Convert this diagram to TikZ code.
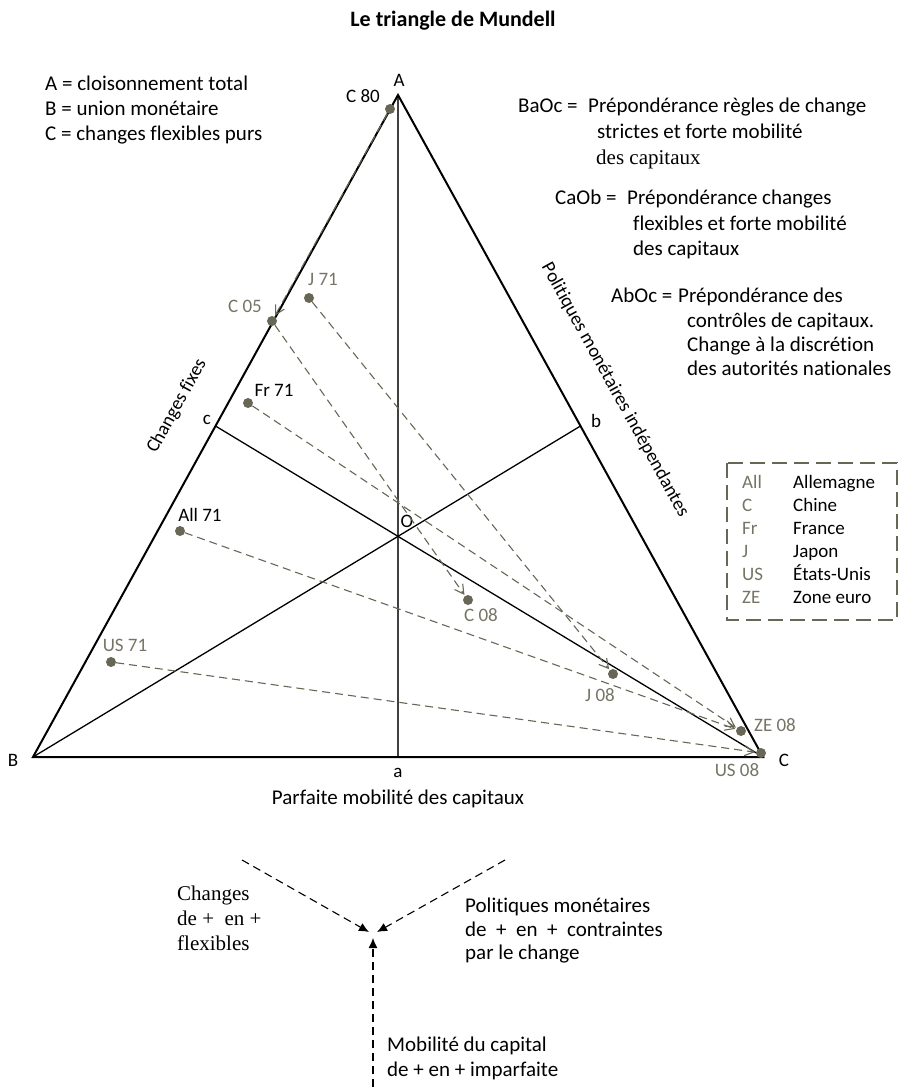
\documentclass[tikz,border=0pt]{standalone}
\usepackage{fontspec}
\setmainfont{Carlito}[Ligatures={NoCommon}]
\newfontfamily\serifft{Liberation Serif}[Ligatures={NoCommon}]
\usetikzlibrary{arrows.meta}
\definecolor{ptgray}{RGB}{104,102,84}
\definecolor{lblgray}{RGB}{118,116,100}
\tikzset{
  txt/.style={inner sep=0pt, font=\fontsize{21}{24}\selectfont},
  lbl/.style={inner sep=0pt, font=\fontsize{19}{22}\selectfont},
  bw/.style={txt, anchor=base west},
  sidel/.style={line width=2pt, line join=miter},
  median/.style={line width=1.3pt},
  vert/.style={line width=1.3pt, black!75},
  dot/.style={circle, fill=ptgray, inner sep=0pt, minimum size=10pt},
  glbl/.style={lbl, text=lblgray},
  conn/.style={ptgray, line width=1.1pt, dash pattern=on 8pt off 5pt, -{Straight Barb[length=9pt,width=10pt]}, shorten >=1pt},
  legbox/.style={ptgray, line width=2.6pt, dash pattern=on 15pt off 7pt},
  legt/.style={inner sep=0pt, font=\fontsize{19}{22}\selectfont, anchor=base west},
  barr/.style={black, line width=1.1pt, dash pattern=on 8pt off 5pt, -{Latex[length=10pt,width=9pt]}},
  sbw/.style={bw, font=\fontsize{21}{24}\serifft},
}
\begin{document}
\begin{tikzpicture}[x=1pt,y=-1pt]
\useasboundingbox (0,0) rectangle (906,1087);
% title
\node[inner sep=0pt, font=\fontsize{22}{24}\selectfont\bfseries] (title) at (453,21) {Le triangle de Mundell};
% key points
\coordinate (A) at (398,95);
\coordinate (B) at (33,757);
\coordinate (C) at (763,757);
\coordinate (a) at (398,757);
\coordinate (c) at (215.5,426);
\coordinate (b) at (580.5,426);
\coordinate (O) at (398,536.3);
\draw[vert] (A) -- (a);
\draw[median] (c) -- (C);
\draw[median] (b) -- (B);
\draw[sidel] (A) -- (B) -- (C) -- cycle;
% vertex labels
\node[lbl] (lA) at (399,80) {A};
\node[lbl] (lB) at (13,760) {B};
\node[lbl] (lC) at (784,760) {C};
\node[lbl] (la) at (398,773) {a};
\node[lbl] (lb) at (596,421) {b};
\node[lbl] (lc) at (207,420) {c};
\node[lbl] (lO) at (407,521) {O};
\node[txt] (axis) at (398,799) {Parfaite mobilité des capitaux};
\node[lbl, rotate=61.1] (cf) at (177,406) {Changes fixes};
\node[lbl, rotate=-61.1] (pmi) at (615,390) {Politiques monétaires indépendantes};
% definitions
\node[bw] (dA) at (45,90) {A = cloisonnement total};
\node[bw] (dB) at (45,115) {B = union monétaire};
\node[bw] (dC) at (45,140) {C = changes flexibles purs};
\node[bw] (k1a) at (518,112) {BaOc =};
\node[bw] (d1a) at (588,112) {Prépondérance règles de change};
\node[bw] (d1b) at (597,138) {strictes et forte mobilité};
\node[sbw] (d1c) at (596,164) {des capitaux};
\node[bw] (k2a) at (555,204) {CaOb =};
\node[bw] (d2a) at (627,204) {Prépondérance changes};
\node[bw] (d2b) at (633,230) {flexibles et forte mobilité};
\node[bw] (d2c) at (633,255) {des capitaux};
\node[bw] (k3a) at (611,302) {AbOc =};
\node[bw] (d3a) at (678,302) {Prépondérance des};
\node[bw] (d3b) at (687,327) {contrôles de capitaux.};
\node[bw] (d3c) at (687,351) {Change à la discrétion};
\node[bw] (d3d) at (687,375) {des autorités nationales};
% legend
\draw[legbox] (727,463) rectangle (897,620);
\node[legt, text=lblgray] (k1) at (742,488) {All};
\node[legt, text=lblgray] (k2) at (742,511) {C};
\node[legt, text=lblgray] (k3) at (742,534) {Fr};
\node[legt, text=lblgray] (k4) at (742,557) {J};
\node[legt, text=lblgray] (k5) at (742,580) {US};
\node[legt, text=lblgray] (k6) at (742,603) {ZE};
\node[legt] (n1) at (793,488) {Allemagne};
\node[legt] (n2) at (793,511) {Chine};
\node[legt] (n3) at (793,534) {France};
\node[legt] (n4) at (793,557) {Japon};
\node[legt] (n5) at (793,580) {États-Unis};
\node[legt] (n6) at (793,603) {Zone euro};
% data points
\node[dot] (c80) at (390,109) {};
\node[dot] (c05) at (272,321) {};
\node[dot] (j71) at (309,298) {};
\node[dot] (fr71) at (248,403) {};
\node[dot] (all71) at (180,531) {};
\node[dot] (us71) at (111,662) {};
\node[dot] (c08) at (468,600) {};
\node[dot] (j08) at (613,674) {};
\node[dot] (ze08) at (741,731) {};
\node[dot] (us08) at (761,753) {};
\node[lbl] (tc80) at (363,96) {C 80};
\node[glbl] (tc05) at (245,306) {C 05};
\node[glbl] (tj71) at (323,279) {J 71};
\node[lbl] (tfr71) at (274,390) {Fr 71};
\node[lbl] (tall71) at (200,515) {All 71};
\node[glbl] (tus71) at (125,645) {US 71};
\node[glbl] (tc08) at (481,615) {C 08};
\node[glbl] (tj08) at (600,695) {J 08};
\node[glbl] (tze08) at (775,725) {ZE 08};
\node[glbl] (tus08) at (737,770) {US 08};
% movements
\draw[conn] (c80) -- (c05);
\draw[conn] (c05) -- (c08);
\draw[conn] (j71) -- (j08);
\draw[conn] (fr71) -- (ze08);
\draw[conn] (all71) -- (ze08);
\draw[conn] (us71) -- (us08);
% bottom diagram
\coordinate (p1) at (242,860);
\coordinate (t1) at (369,932);
\coordinate (p2) at (505,860);
\coordinate (t2) at (377,932);
\coordinate (p3) at (373,1087);
\coordinate (t3) at (373,938);
\draw[barr] (p1) -- (t1);
\draw[barr] (p2) -- (t2);
\draw[barr] (p3) -- (t3);
\node[sbw] (s1) at (177,900) {Changes};
\node[sbw] (s2) at (177,925) {de +\ \ en +};
\node[sbw] (s3) at (177,950) {flexibles};
\node[bw] (r1) at (465,912) {Politiques monétaires};
\node[bw] (r2) at (465,936) {de\ \ +\ \ en\ \ +\ \ contraintes};
\node[bw] (r3) at (465,959) {par le change};
\node[bw] (m1) at (387,1051) {Mobilité du capital};
\node[bw] (m2) at (387,1076) {de + en + imparfaite};
\end{tikzpicture}
\end{document}
